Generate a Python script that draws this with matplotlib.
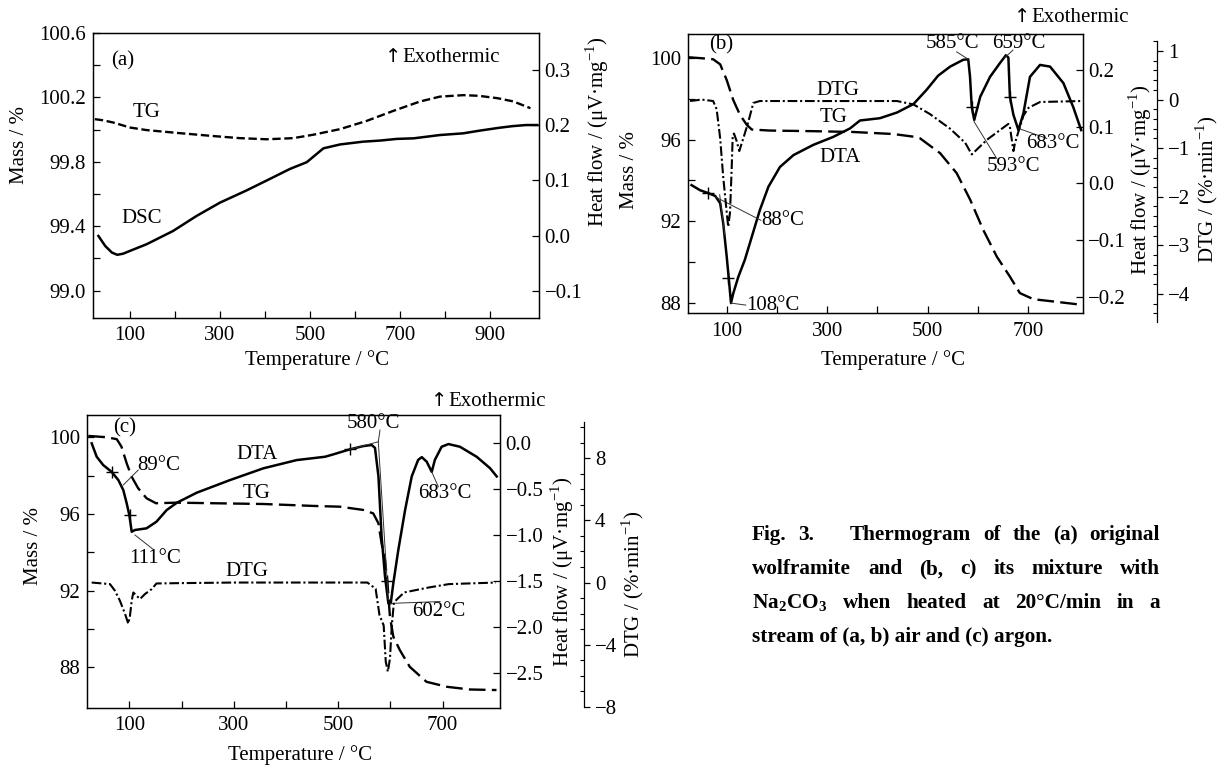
import matplotlib
matplotlib.use("Agg")
import matplotlib.pyplot as plt

plt.rcParams['font.family'] = ['Liberation Serif', 'DejaVu Serif']
plt.rcParams['mathtext.fontset'] = 'custom'
plt.rcParams['mathtext.rm'] = 'Liberation Serif'
plt.rcParams['mathtext.bf'] = 'Liberation Serif:bold'
plt.rcParams['font.size'] = 15
plt.rcParams['axes.linewidth'] = 0.9
plt.rcParams['lines.scale_dashes'] = False

# ---- (a) original wolframite in air ----
a_tg_T = [22, 40, 63, 100, 137, 211, 285, 344, 404, 463, 507, 567, 626, 685,
          744, 789, 841, 875, 917, 952, 990]
a_tg_mass = [100.065, 100.058, 100.044, 100.013, 99.997, 99.978, 99.96, 99.947,
             99.94, 99.947, 99.968, 100.003, 100.054, 100.116, 100.174, 100.205,
             100.214, 100.21, 100.195, 100.175, 100.133]
a_dsc_T = [30, 45, 60, 72, 85, 100, 137, 196, 248, 300, 359, 404, 456, 493, 530,
           567, 618, 656, 693, 730, 789, 840, 878, 920, 950, 980, 1005]
a_dsc_hf = [0.0, -0.018, -0.03, -0.034, -0.032, -0.027, -0.015, 0.009, 0.036,
            0.06, 0.082, 0.1, 0.121, 0.133, 0.158, 0.165, 0.17, 0.172, 0.175,
            0.176, 0.182, 0.185, 0.19, 0.195, 0.198, 0.2, 0.2]

# ---- (b) mixture with Na2CO3 in air ----
b_tg_T = [23.5, 50, 73, 87, 100, 113, 126.5, 140, 150, 186, 272, 352, 432, 472,
          485, 525, 558, 585, 611, 638, 664, 684, 711, 751, 806]
b_tg_mass = [100.05, 100.0, 99.95, 99.7, 98.93, 97.95, 97.22, 96.73, 96.5, 96.45,
             96.42, 96.38, 96.28, 96.15, 96.07, 95.34, 94.36, 93.05, 91.57, 90.26,
             89.28, 88.47, 88.17, 88.06, 87.9]
b_dtg_T = [27, 50, 73, 80, 87, 93, 100, 103, 106.6, 110, 112, 114.5, 120, 125, 133,
           143, 153, 166, 300, 439, 472, 505, 545, 575, 581, 588, 595, 618, 644,
           661, 664, 671, 674, 681, 691, 701, 724, 806]
b_dtg = [-0.03, 0.0, -0.03, -0.2, -0.8, -1.59, -2.32, -2.62, -2.32, -1.39, -0.73,
         -0.7, -0.86, -1.06, -0.8, -0.46, -0.07, -0.03, -0.03, -0.03, -0.1, -0.3,
         -0.6, -0.89, -1.0, -1.13, -1.06, -0.83, -0.63, -0.5, -0.56, -1.06, -0.9,
         -0.66, -0.33, -0.17, -0.05, -0.03]
b_dta_T = [30, 47, 63, 77, 87, 93, 100, 105, 108.5, 113, 123, 136, 150, 166, 183,
           206, 233, 272.5, 312, 345.6, 365.5, 405, 439, 472, 498, 521, 545, 571,
           581, 584.6, 588, 593, 605, 624.5, 644, 656, 661, 664, 671, 681, 691,
           704, 724, 744, 770.5, 790, 806]
b_dta_hf = [-0.003, -0.012, -0.017, -0.022, -0.035, -0.07, -0.129, -0.176, -0.211,
            -0.194, -0.165, -0.135, -0.094, -0.047, -0.006, 0.029, 0.05, 0.068,
            0.082, 0.097, 0.111, 0.115, 0.125, 0.14, 0.165, 0.19, 0.206, 0.218,
            0.219, 0.188, 0.135, 0.112, 0.153, 0.188, 0.212, 0.226, 0.222, 0.153,
            0.121, 0.094, 0.124, 0.188, 0.209, 0.206, 0.177, 0.135, 0.094]

# ---- (c) mixture with Na2CO3 in argon ----
c_tg_T = [21.5, 56.7, 76, 85, 95, 104.6, 117, 133, 151, 191, 261, 356.5, 452, 503,
          548, 567, 577, 583, 589.5, 594, 599, 605.5, 618, 637, 669, 708, 752, 803]
c_tg_mass = [100.07, 100.0, 99.9, 99.51, 98.64, 97.94, 97.34, 96.82, 96.56, 96.59,
             96.56, 96.52, 96.42, 96.38, 96.21, 96.03, 95.51, 94.47, 93.6, 92.5,
             90.64, 89.6, 88.9, 88.03, 87.25, 86.99, 86.85, 86.82]
c_dta_T = [28, 37.6, 50, 66, 79, 88.5, 95, 100, 104.6, 111, 133, 152, 171.6, 191,
           229, 293, 356.5, 420.5, 474.7, 490.6, 522.6, 548, 564, 570.4, 577, 583,
           589.6, 596, 600.5, 605.5, 615, 628, 640.7, 653, 660, 669.4, 679, 685,
           698, 711, 733, 765, 790.6, 803.4]
c_dta_hf = [0.0, -0.146, -0.236, -0.309, -0.399, -0.508, -0.652, -0.779, -0.961,
            -0.942, -0.924, -0.852, -0.725, -0.646, -0.537, -0.399, -0.272, -0.182,
            -0.146, -0.12, -0.065, -0.03, -0.018, -0.05, -0.36, -1.01, -1.45,
            -1.74, -1.74, -1.52, -1.16, -0.725, -0.36, -0.18, -0.15, -0.2, -0.31,
            -0.18, -0.037, -0.008, -0.037, -0.146, -0.27, -0.36]
c_dtg_T = [28, 63, 72.6, 82, 91.7, 98, 101, 104.6, 107.7, 114, 120.5, 130, 143, 152,
           191, 300, 450, 555.8, 571.6, 579, 587, 591, 595, 599, 602.6, 606.6, 626,
           673, 712, 802]
c_dtg = [0.0, -0.1, -0.53, -1.17, -2.0, -2.65, -2.23, -1.17, -0.64, -0.85, -1.06,
         -0.74, -0.42, -0.06, -0.04, 0.0, 0.0, 0.0, -0.4, -2.1, -2.76, -5.1, -5.74,
         -4.9, -2.76, -1.27, -0.64, -0.32, -0.1, 0.0]

caption = [
    ["Fig.", "3.", "Thermogram", "of", "the", "(a)", "original"],
    ["wolframite", "and", "(b,", "c)", "its", "mixture", "with"],
    [r"Na$_{\mathbf{2}}$CO$_{\mathbf{3}}$", "when", "heated", "at", "20°C/min",
     "in", "a"],
]
caption_last = "stream of (a, b) air and (c) argon."

MINUS = '\u2212'
W, H = 1218, 767
fig = plt.figure(figsize=(W / 100, H / 100), dpi=100)


def rect(l, t, r, b):
    return [l / W, 1 - b / H, (r - l) / W, (b - t) / H]


def ftext(x, y, s, **kw):
    kw.setdefault('ha', 'center')
    kw.setdefault('va', 'center')
    return fig.text(x / W, 1 - y / H, s, **kw)


def exo(xtext, y):
    # arrow glyph from DejaVu, it is bolder than the serif one
    ftext(xtext - 9, y - 1, '\u2191', family='DejaVu Sans', fontsize=14)
    ftext(xtext, y, 'Exothermic', ha='left')


def lab(v, fmt):
    return fmt.format(v).replace('-', MINUS)


def panel(box, xlim, xticks, mlim, mticks, mfmt, hlim, hticks, hfmt):
    ax = fig.add_axes(rect(*box))
    ax.set_xlim(*xlim)
    ax.set_xticks(xticks)
    ax.set_xticklabels([str(t) if (t // 100) % 2 == 1 else '' for t in xticks])
    ax.set_ylim(*mlim)
    ax.set_yticks(mticks)
    ax.set_yticklabels([lab(v, mfmt) if i % 2 == 0 else ''
                        for i, v in enumerate(mticks)])
    ax.tick_params(direction='in', length=5, width=0.9, pad=5)
    ax.tick_params(axis='x', pad=6)
    hf = ax.twinx()
    hf.set_ylim(*hlim)
    hf.set_yticks(hticks)
    hf.set_yticklabels([lab(v, hfmt) for v in hticks])
    hf.tick_params(direction='in', length=5, width=0.9, pad=4)
    return ax, hf


def dtg_axis(ax, lim, offset, bounds, ticks, minor):
    # twin of the mass axes, so the heat-flow ticks stay on the right
    d = ax.twinx()
    d.set_ylim(*lim)
    d.spines['right'].set_position(('axes', offset))
    d.spines['right'].set_bounds(*bounds)
    for s in ('top', 'bottom', 'left'):
        d.spines[s].set_visible(False)
    d.set_yticks(ticks)
    d.set_yticklabels([lab(v, '{:d}') for v in ticks])
    d.set_yticks(minor, minor=True)
    d.tick_params(which='major', direction='out', length=4, width=0.9, pad=4)
    d.tick_params(which='minor', direction='in', length=3, width=0.8)
    return d


TG_A = dict(color='black', lw=1.7, dashes=(6, 2.6))
TG_L = dict(color='black', lw=1.7, dashes=(12, 4.5))
DTG = dict(color='black', lw=1.5, dashes=(7, 2, 1.5, 2))
SOLID = dict(color='black', lw=1.8)
THIN = dict(color='#333333', lw=0.7)
PLUS = dict(color='black', marker='+', ms=8, mew=1.0, ls='none')

# ---------------- (a) ----------------
axa, hfa = panel((93, 33, 539, 318), (18, 1009), list(range(100, 1000, 100)),
                 (98.83, 100.6), [99.0, 99.2, 99.4, 99.6, 99.8, 100.0, 100.2, 100.4, 100.6],
                 '{:.1f}', (-0.148, 0.366), [-0.1, 0.0, 0.1, 0.2, 0.3], '{:.1f}')
axa.plot(a_tg_T, a_tg_mass, **TG_A)
hfa.plot(a_dsc_T, a_dsc_hf, **SOLID)
axa.text(84, 100.43, '(a)', ha='center', va='center')
axa.text(138, 100.104, 'TG', ha='center', va='center')
axa.text(127, 99.45, 'DSC', ha='center', va='center')
exo(402, 57)
ftext(317, 360, 'Temperature / °C')
ftext(20, 145, 'Mass / %', rotation=90)
ftext(597, 132, r'Heat flow / (μV·mg$^{-1}$)', rotation=90)

# ---------------- (b) ----------------
axb, hfb = panel((688.3, 34, 1082.7, 313.3), (23.5, 809), list(range(100, 800, 100)),
                 (87.48, 101.19), list(range(88, 101, 2)), '{:d}',
                 (-0.229, 0.2635), [-0.2, -0.1, 0.0, 0.1, 0.2], '{:.1f}')
dtb = dtg_axis(axb, (-4.215, 1.35), 1.1876, (-4.58, 1.2), list(range(-4, 2)),
               [v / 5 for v in range(-22, 7)])
axb.plot(b_tg_T, b_tg_mass, **TG_L)
dtb.plot(b_dtg_T, b_dtg, **DTG)
hfb.plot(b_dta_T, b_dta_hf, **SOLID)
hfb.plot([63, 103, 588, 664], [-0.017, -0.167, 0.135, 0.153], **PLUS)
hfb.plot([78, 168], [-0.024, -0.065], **THIN)
hfb.plot([86, 96], [-0.02, -0.09], **THIN)
hfb.plot([108.5, 138], [-0.211, -0.2145], **THIN)
hfb.plot([558, 581], [0.232, 0.219], **THIN)
hfb.plot([670, 654], [0.235, 0.222], **THIN)
hfb.plot([592.6, 637.8], [0.109, 0.044], **THIN)
hfb.plot([681, 737.5], [0.097, 0.0795], **THIN)
hfb.text(168, -0.065, '88°C', ha='left', va='center')
hfb.text(139, -0.2145, '108°C', ha='left', va='center')
hfb.text(549, 0.247, '585°C', ha='center', va='center')
hfb.text(682, 0.247, '659°C', ha='center', va='center')
hfb.text(671, 0.0295, '593°C', ha='center', va='center')
hfb.text(749, 0.071, '683°C', ha='center', va='center')
hfb.text(322, 0.1647, 'DTG', ha='center', va='center')
hfb.text(312, 0.117, 'TG', ha='center', va='center')
hfb.text(326, 0.0466, 'DTA', ha='center', va='center')
hfb.text(88.6, 0.244, '(b)', ha='center', va='center')
exo(1031, 18)
ftext(893, 360, 'Temperature / °C')
ftext(629, 170, 'Mass / %', rotation=90)
ftext(1140, 180, r'Heat flow / (μV·mg$^{-1}$)', rotation=90)
ftext(1207, 189, r'DTG / (%·min$^{-1}$)', rotation=90)

# ---------------- (c) ----------------
axc, hfc = panel((87.3, 415, 500, 707.7), (19.6, 809.7), list(range(100, 800, 100)),
                 (85.9, 101.16), list(range(88, 101, 2)), '{:d}',
                 (-2.874, 0.308), [-2.5, -2.0, -1.5, -1.0, -0.5, 0.0], '{:.1f}')
dtc = dtg_axis(axc, (-8.06, 10.79), 1.2035, (-8, 10.36), [-8, -4, 0, 4, 8],
               list(range(-8, 11)))
axc.plot(c_tg_T, c_tg_mass, **TG_L)
dtc.plot(c_dtg_T, c_dtg, **DTG)
hfc.plot(c_dta_T, c_dta_hf, **SOLID)
hfc.plot([66, 101, 522.6], [-0.309, -0.78, -0.065], **PLUS)
axc.plot([594], [92.5], **PLUS)
axc.plot([88.5, 117], [97.51, 98.29], **THIN)
axc.plot([111, 146], [94.9, 94.15], **THIN)
hfc.plot([522.6, 576.7], [-0.065, 0.017], **THIN)
hfc.plot([576.7, 580], [0.017, 0.145], **THIN)
hfc.plot([576.7, 596], [0.017, -1.70], **THIN)
hfc.plot([600.5, 695], [-1.74, -1.72], **THIN)
hfc.plot([679, 691.6], [-0.309, -0.472], **THIN)
axc.text(92, 100.485, '(c)', ha='center', va='center')
axc.text(157, 98.55, '89°C', ha='center', va='center')
axc.text(149, 93.69, '111°C', ha='center', va='center')
axc.text(344, 99.08, 'DTA', ha='center', va='center')
axc.text(344, 97.08, 'TG', ha='center', va='center')
axc.text(325, 93.0, 'DTG', ha='center', va='center')
hfc.text(567, 0.22, '580°C', ha='center', va='center')
hfc.text(693, -1.83, '602°C', ha='center', va='center')
hfc.text(704, -0.543, '683°C', ha='center', va='center')
exo(448, 402)
ftext(300, 755, 'Temperature / °C')
ftext(34, 546, 'Mass / %', rotation=90)
ftext(562, 572, r'Heat flow / (μV·mg$^{-1}$)', rotation=90)
ftext(633, 584, r'DTG / (%·min$^{-1}$)', rotation=90)

# ---------------- caption, justified ----------------
cap_kw = dict(fontsize=15.3, fontweight='bold', ha='left', va='center')
x0, x1, y0, dy = 752, 1160, 535, 34
rend = fig.canvas.get_renderer()
for i, words in enumerate(caption):
    ts = [ftext(0, y0 + i * dy, w, **cap_kw) for w in words]
    widths = [t.get_window_extent(rend).width for t in ts]
    weights = [3 if (i == 0 and k == 1) else 1 for k in range(len(words) - 1)]
    gap = (x1 - x0 - sum(widths)) / sum(weights)
    x = x0
    for k, t in enumerate(ts):
        t.set_position((x / W, 1 - (y0 + i * dy) / H))
        if k < len(weights):
            x += widths[k] + gap * weights[k]
ftext(x0, y0 + 3 * dy, caption_last, **cap_kw)

fig.savefig('out.png', dpi=100)
